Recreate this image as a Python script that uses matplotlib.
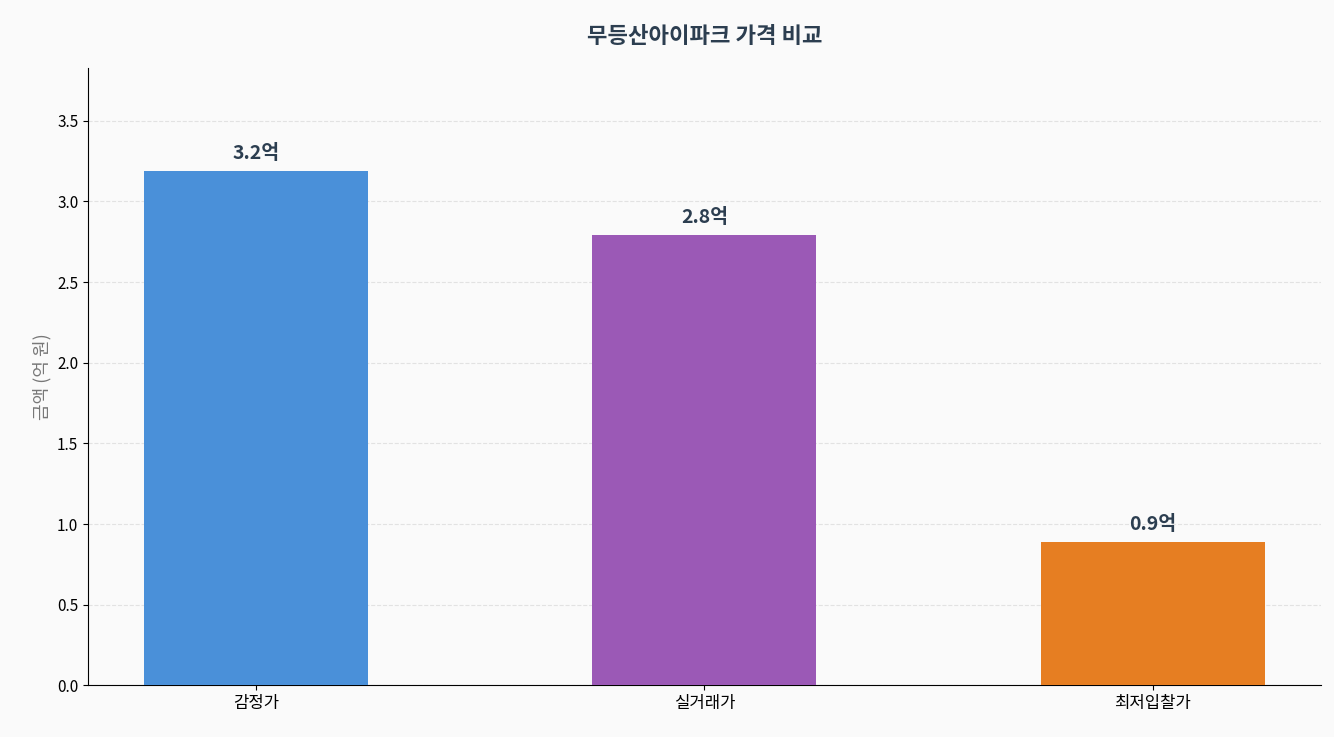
import matplotlib
matplotlib.use("Agg")
import matplotlib.pyplot as plt

plt.rcParams['font.family'] = ['Noto Sans CJK KR', 'DejaVu Sans']

categories = ["감정가", "실거래가", "최저입찰가"]
values = [3.19, 2.79, 0.89]
labels = ["3.2억", "2.8억", "0.9억"]
colors = ["#4a90d9", "#9b59b6", "#e67e22"]

fig, ax = plt.subplots(figsize=(13.34, 7.37), dpi=100)
fig.patch.set_facecolor("#fafafa")
ax.set_facecolor("#fafafa")

bars = ax.bar(categories, values, width=0.5, color=colors, zorder=3)
for b, lab in zip(bars, labels):
    ax.text(b.get_x() + b.get_width() / 2, b.get_height() + 0.05, lab,
            ha="center", va="bottom", fontsize=14, fontweight="bold", color="#2c3e50")

ax.set_ylim(0, max(values) * 1.2)
ax.set_title("무등산아이파크 가격 비교", fontsize=16, fontweight="bold", color="#2c3e50", pad=18)
ax.set_ylabel("금액 (억 원)", fontsize=13, color="#777777")
ax.grid(axis="y", linestyle="--", color="#dddddd", alpha=0.8, zorder=0)
ax.spines["top"].set_visible(False)
ax.spines["right"].set_visible(False)
ax.tick_params(axis="x", labelsize=12)
ax.tick_params(axis="y", labelsize=11)

plt.subplots_adjust(left=0.066, right=0.99, top=0.908, bottom=0.07)
plt.savefig("out.png", dpi=100, facecolor=fig.get_facecolor())
